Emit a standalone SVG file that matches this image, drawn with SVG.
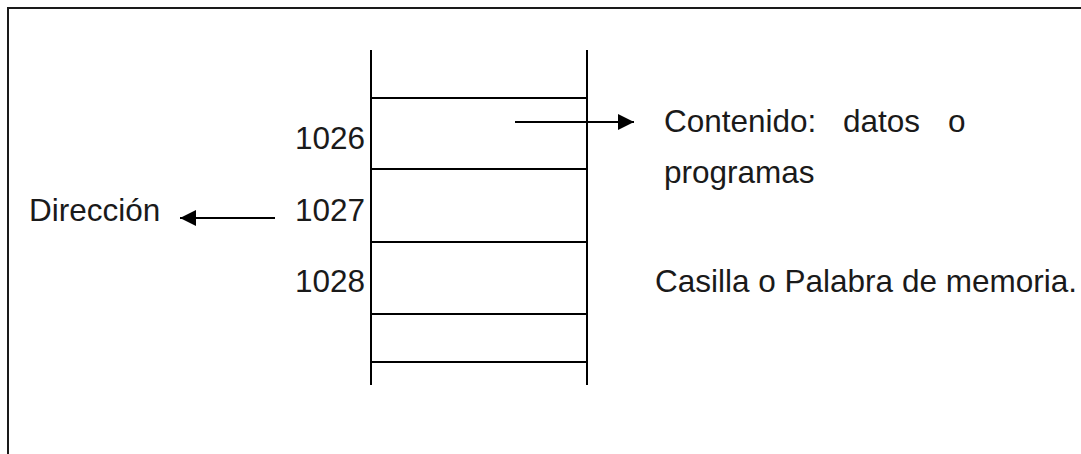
<svg xmlns="http://www.w3.org/2000/svg" width="1081" height="454" viewBox="0 0 1081 454">
  <style>
    .frame { fill: none; stroke: #1a1a1a; stroke-width: 2; }
    .rail { stroke: #000; stroke-width: 2; fill: none; }
    .cell { stroke: #000; stroke-width: 2; }
    .conn { stroke: #000; stroke-width: 2; fill: none; }
    .lbl { font-family: "Liberation Sans", Arial, sans-serif; font-size: 31.5px; fill: #1a1a1a; }
  </style>
  <defs>
    <marker id="head" viewBox="0 0 16 16" refX="16" refY="8" markerWidth="16" markerHeight="16" markerUnits="userSpaceOnUse" orient="auto">
      <path d="M0,0 L16,8 L0,16 Z" fill="#000"/>
    </marker>
  </defs>

  <rect width="1081" height="454" fill="#fff"/>

  <!-- page frame (open to the right and bottom) -->
  <path class="frame" d="M8,454 L8,8 L1081,8"/>

  <!-- memory column -->
  <g id="memory">
    <line class="rail" x1="371" y1="50" x2="371" y2="385"/>
    <line class="rail" x1="587" y1="50" x2="587" y2="385"/>
    <line class="cell" x1="371" y1="98" x2="587" y2="98"/>
    <line class="cell" x1="371" y1="169" x2="587" y2="169"/>
    <line class="cell" x1="371" y1="242" x2="587" y2="242"/>
    <line class="cell" x1="371" y1="314" x2="587" y2="314"/>
    <line class="cell" x1="371" y1="362" x2="587" y2="362"/>
  </g>

  <!-- addresses -->
  <g id="addr-1026"><text class="lbl" x="365" y="149" text-anchor="end">1026</text></g>
  <g id="addr-1027"><text class="lbl" x="365" y="221" text-anchor="end">1027</text></g>
  <g id="addr-1028"><text class="lbl" x="365" y="292" text-anchor="end">1028</text></g>

  <g id="label-direccion"><text class="lbl" x="29" y="221">Dirección</text></g>

  <g id="label-contenido">
    <text class="lbl" x="664" y="132">Contenido:<tspan x="843">datos</tspan><tspan x="948">o</tspan></text>
    <text class="lbl" x="664" y="183">programas</text>
  </g>

  <g id="label-casilla"><text class="lbl" x="655" y="292">Casilla o Palabra de memoria.</text></g>

  <!-- connectors -->
  <g id="connectors">
    <line class="conn" x1="515" y1="122" x2="634" y2="122" marker-end="url(#head)"/>
    <line class="conn" x1="275" y1="218" x2="180" y2="218" marker-end="url(#head)"/>
  </g>
</svg>
